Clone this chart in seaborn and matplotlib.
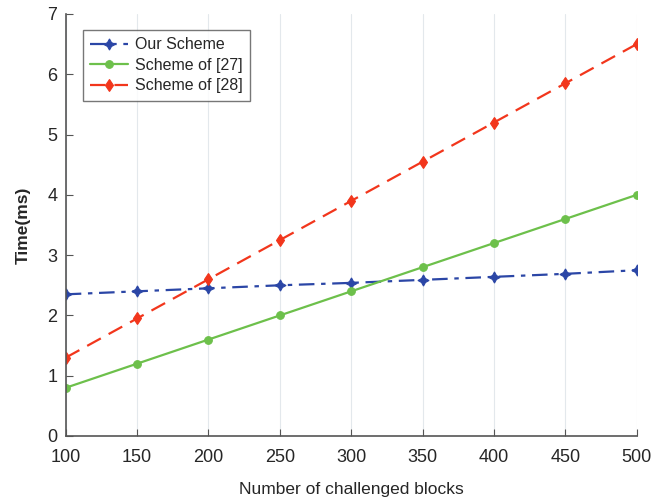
import matplotlib
matplotlib.use('Agg')
import matplotlib.pyplot as plt
import seaborn as sns
import pandas as pd

# data
blocks = [100, 150, 200, 250, 300, 350, 400, 450, 500]
ours = [2.35, 2.4, 2.45, 2.5, 2.54, 2.59, 2.64, 2.69, 2.75]
scheme27 = [0.8, 1.2, 1.6, 2.0, 2.4, 2.8, 3.2, 3.6, 4.0]
scheme28 = [1.3, 1.95, 2.6, 3.25, 3.9, 4.55, 5.2, 5.85, 6.5]

labels = ['Our Scheme', 'Scheme of [27]', 'Scheme of [28]']

df = pd.DataFrame({'blocks': blocks * 3,
                   'time': ours + scheme27 + scheme28,
                   'scheme': [labels[0]] * 9 + [labels[1]] * 9 + [labels[2]] * 9})

sns.set_style('white')
plt.rcParams['font.family'] = ['Liberation Sans', 'DejaVu Sans']

fig, ax = plt.subplots(figsize=(6.51, 5), dpi=100)

palette = {labels[0]: '#2b46a6', labels[1]: '#6dc04b', labels[2]: '#f2361c'}
styles = {labels[0]: (0, (7, 3, 2, 3)), labels[1]: '-', labels[2]: (0, (7, 4))}
markers = {labels[0]: (4, 1, 0), labels[1]: 'o', labels[2]: 'd'}
msizes = {labels[0]: 8, labels[1]: 5.5, labels[2]: 6.5}

for lab in labels:
    sub = df[df['scheme'] == lab]
    sns.lineplot(data=sub, x='blocks', y='time', ax=ax, color=palette[lab],
                 linestyle=styles[lab], marker=markers[lab], markersize=msizes[lab],
                 markeredgewidth=0.8, markeredgecolor=palette[lab],
                 linewidth=1.6, label=lab)

ax.set_xlim(100, 500)
ax.set_ylim(0, 7)
ax.set_xticks(blocks)
ax.set_yticks(range(0, 8))
ax.xaxis.grid(True, color='#e3e8ec', linewidth=0.8)
ax.yaxis.grid(False)
for s in ['top', 'right']:
    ax.spines[s].set_visible(False)
for s in ['left', 'bottom']:
    ax.spines[s].set_color('#555555')
    ax.spines[s].set_linewidth(1.2)
ax.tick_params(direction='in', length=5, color='#555555', labelsize=13, bottom=True, left=True)
ax.tick_params(axis='x', pad=9)
ax.tick_params(axis='y', pad=6)
ax.set_xlabel('Number of challenged blocks', fontsize=12.5, labelpad=12)
ax.set_ylabel('Time(ms)', fontsize=12.5, fontweight='bold', labelpad=12)

leg = ax.legend(loc='upper left', bbox_to_anchor=(0.03, 0.962), fontsize=11.5,
                frameon=True, fancybox=False, edgecolor='#555555',
                handlelength=2.4, handletextpad=0.4, borderpad=0.45,
                labelspacing=0.35, borderaxespad=0)
leg.get_frame().set_linewidth(1.0)

plt.subplots_adjust(left=0.101, right=0.978, top=0.972, bottom=0.128)
plt.savefig('out.png', dpi=100)
